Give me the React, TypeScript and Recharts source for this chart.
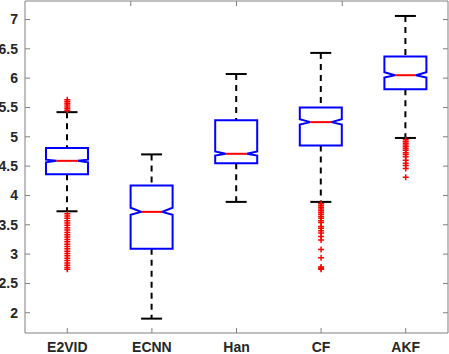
import { ComposedChart, Bar, Scatter, XAxis, YAxis } from "recharts"

const categories = ["E2VID", "ECNN", "Han", "CF", "AKF"]
const whiskerLow = [3.73, 1.9, 3.89, 3.89, 4.98]
const quartile1 = [4.36, 3.09, 4.55, 4.85, 5.81]
const medians = [4.59, 3.72, 4.71, 5.25, 6.05]
const quartile3 = [4.81, 4.17, 5.28, 5.5, 6.37]
const whiskerHigh = [5.42, 4.7, 6.07, 6.43, 7.06]
const notchLow = [4.565, 3.67, 4.68, 5.21, 6.01]
const notchHigh = [4.61, 3.79, 4.75, 5.3, 6.1]

const outliersE2VID = [
  5.45, 5.48, 5.51, 5.54, 5.57, 5.6, 5.63, 3.69, 3.65, 3.61, 3.57, 3.53, 3.49, 3.45, 3.41, 3.37, 3.33, 3.29,
  3.25, 3.21, 3.17, 3.13, 3.09, 3.05, 3.01, 2.97, 2.93, 2.89, 2.85, 2.81, 2.77, 2.74,
]
const outliersECNN: number[] = []
const outliersHan: number[] = []
const outliersCF = [
  3.86, 3.83, 3.8, 3.77, 3.74, 3.71, 3.68, 3.64, 3.61, 3.57, 3.54, 3.47, 3.44, 3.4, 3.36, 3.3, 3.24, 3.08, 2.94,
  2.78, 2.76, 2.74,
]
const outliersAKF = [4.95, 4.92, 4.89, 4.86, 4.83, 4.8, 4.77, 4.73, 4.7, 4.66, 4.6, 4.55, 4.51, 4.46, 4.31]

const yTicks = [2, 2.5, 3, 3.5, 4, 4.5, 5, 5.5, 6, 6.5, 7]
const yDomain = [1.655, 7.315]

const boxData = categories.map((name, i) => ({
  name,
  lo: whiskerLow[i],
  q1: quartile1[i],
  med: medians[i],
  q3: quartile3[i],
  hi: whiskerHigh[i],
  nLo: notchLow[i],
  nHi: notchHigh[i],
}))

const outlierLists = [outliersE2VID, outliersECNN, outliersHan, outliersCF, outliersAKF]
const outlierData = outlierLists.flatMap((list, i) => list.map((v) => ({ name: categories[i], v })))

const axisColor = "#808080"
const textColor = "#262626"
const font = "'Liberation Sans', Arial, sans-serif"

function BoxShape(props: any) {
  const { x, y, width, height, payload } = props
  const cx = x + width / 2
  const top = Math.min(y, y + height)
  const h = Math.abs(height)
  // linear map from value to pixel using the bar's own scaled extent (lo..hi)
  const py = (v: number) => top + (h * (payload.hi - v)) / (payload.hi - payload.lo)
  const hw = 21
  const inset = 10.5
  const cap = 10.5
  const l = cx - hw
  const r = cx + hw
  const path = [
    `M${l},${py(payload.q3)}`,
    `L${r},${py(payload.q3)}`,
    `L${r},${py(payload.nHi)}`,
    `L${r - inset},${py(payload.med)}`,
    `L${r},${py(payload.nLo)}`,
    `L${r},${py(payload.q1)}`,
    `L${l},${py(payload.q1)}`,
    `L${l},${py(payload.nLo)}`,
    `L${l + inset},${py(payload.med)}`,
    `L${l},${py(payload.nHi)}`,
    "Z",
  ].join(" ")
  return (
    <g>
      <line x1={cx} x2={cx} y1={py(payload.hi)} y2={py(payload.q3)} stroke="#000" strokeWidth={2} strokeDasharray="6 5" />
      <line x1={cx} x2={cx} y1={py(payload.q1)} y2={py(payload.lo)} stroke="#000" strokeWidth={2} strokeDasharray="6 5" />
      <line x1={cx - cap} x2={cx + cap} y1={py(payload.hi)} y2={py(payload.hi)} stroke="#000" strokeWidth={2} />
      <line x1={cx - cap} x2={cx + cap} y1={py(payload.lo)} y2={py(payload.lo)} stroke="#000" strokeWidth={2} />
      <path d={path} fill="none" stroke="#0000ff" strokeWidth={2} strokeLinejoin="miter" />
      <line x1={l + inset} x2={r - inset} y1={py(payload.med)} y2={py(payload.med)} stroke="#ff0000" strokeWidth={2} />
    </g>
  )
}

function PlusShape(props: any) {
  const { cx, cy } = props
  return (
    <g>
      <line x1={cx - 3} x2={cx + 3} y1={cy} y2={cy} stroke="#ff0000" strokeWidth={1.5} />
      <line x1={cx} x2={cx} y1={cy - 3} y2={cy + 3} stroke="#ff0000" strokeWidth={1.5} />
    </g>
  )
}

const noLabel = () => <g />

export default function App() {
  return (
    <div style={{ position: "absolute", left: 0, top: 0, background: "#fff" }}>
      <ComposedChart width={449} height={354} data={boxData} margin={{ top: 0, right: 0, bottom: 0, left: 0 }}>
        <XAxis
          dataKey="name"
          allowDuplicatedCategory={false}
          height={21}
          stroke={axisColor}
          tickSize={-5}
          tickMargin={14}
          tick={{ fill: textColor, fontSize: 14, fontWeight: "bold", fontFamily: font }}
        />
        <XAxis
          xAxisId="top"
          orientation="top"
          type="number"
          domain={[0.5, 5.5]}
          ticks={[1, 2, 3, 4, 5]}
          height={1}
          stroke={axisColor}
          tickSize={-5}
          tick={noLabel}
        />
        <YAxis
          domain={yDomain}
          allowDataOverflow
          ticks={yTicks}
          width={25}
          stroke={axisColor}
          tickSize={-5}
          tickMargin={12}
          tick={{ fill: textColor, fontSize: 14, fontWeight: "bold", fontFamily: font }}
        />
        <YAxis
          yAxisId="r"
          orientation="right"
          domain={yDomain}
          allowDataOverflow
          ticks={yTicks}
          width={1}
          stroke={axisColor}
          tickSize={-5}
          tick={noLabel}
        />
        <Bar dataKey={(d: any) => [d.lo, d.hi]} barSize={42} shape={<BoxShape />} isAnimationActive={false} />
        <Scatter data={outlierData} dataKey="v" shape={<PlusShape />} isAnimationActive={false} />
      </ComposedChart>
    </div>
  )
}
